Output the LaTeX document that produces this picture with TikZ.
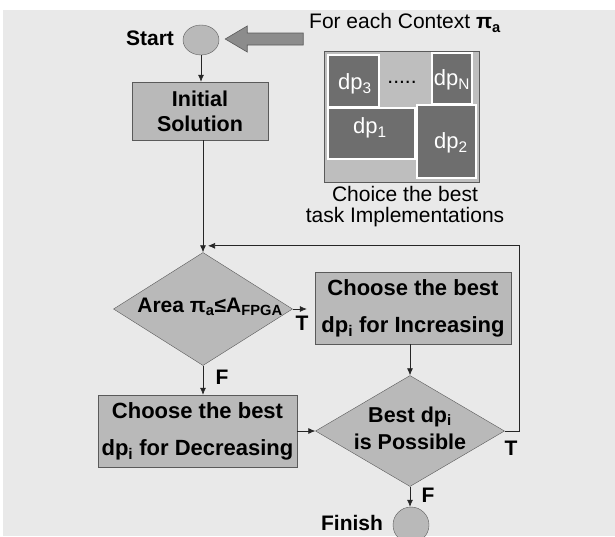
\documentclass[tikz,border=0pt]{standalone}
\usepackage{fontspec}
\setmainfont{Liberation Sans}
\usetikzlibrary{shapes.geometric,arrows.meta,calc}
\definecolor{bg}{HTML}{E9E9E9}
\definecolor{shapefill}{HTML}{B9B9B9}
\definecolor{edge}{HTML}{5A5A5A}
\definecolor{dpfill}{HTML}{6E6E6E}
\definecolor{imgfill}{HTML}{BEBEBE}
\definecolor{arrowfill}{HTML}{8C8C8C}
\begin{document}
\begin{tikzpicture}[x=1pt,y=-1pt,
  every node/.style={font=\fontsize{21}{25}\selectfont},
  proc/.style={draw=edge, fill=shapefill, rectangle, inner sep=0pt, align=center,
    font=\bfseries\fontsize{22}{37}\selectfont},
  dec/.style={draw=edge, fill=shapefill, diamond, inner sep=0pt},
  term/.style={draw=edge, fill=shapefill, ellipse, inner sep=0pt},
  conn/.style={draw=black!85, line width=0.7pt},
  arr/.style={conn, -{Latex[length=7pt,width=6pt]}},
  lbl/.style={font=\bfseries\fontsize{21}{25}\selectfont},
  dpbox/.style={draw=white, line width=1.5pt, fill=dpfill, inner sep=0pt},
  dptext/.style={text=white, font=\fontsize{22}{26}\selectfont},
]
\useasboundingbox (0,0) rectangle (615,536);
\fill[white] (0,0) rectangle (615,536);
\fill[bg] (3,10) rectangle (615,536);

% start / finish
\node[term, minimum width=36pt, minimum height=30pt] (start) at (201,40) {};
\node[lbl] (starttxt) at (150,38) {Start};
\node[term, minimum width=36pt, minimum height=36pt] (fin) at (411,525) {};
\node[lbl] (fintxt) at (352,523) {Finish};

% context arrow and text
\node (ctx) at (405,23) {For each Context \textbf{π\textsubscript{a}}};
\draw[fill=arrowfill, draw=edge, line width=0.6pt]
  ($(start.east)+(6,-1)$) -- ++(22,-13) -- ++(0,7) -- ++(56,0) -- ++(0,12)
  -- ++(-56,0) -- ++(0,7) -- cycle;

% implementations picture
\node[draw=edge, fill=imgfill, line width=0.7pt, inner sep=0pt,
  minimum width=155pt, minimum height=131pt] (img) at (401.5,116.5) {};
\node[dpbox, minimum width=51pt, minimum height=52pt] (dp3) at (353.5,81) {};
\node[dpbox, minimum width=40pt, minimum height=51pt] (dpN) at (452,78.5) {};
\node[dpbox, minimum width=87pt, minimum height=51pt] (dp1) at (371.5,133.5) {};
\node[dpbox, minimum width=59pt, minimum height=73pt] (dp2) at (446.5,141.5) {};
\node[dptext] (dp3t) at (355,84) {dp\textsubscript{3}};
\node[dptext] (dpNt) at (452,80) {dp\textsubscript{N}};
\node[dptext] (dp1t) at (370,128) {dp\textsubscript{1}};
\node[dptext] (dp2t) at (451,143) {dp\textsubscript{2}};
\node[anchor=base] (dots) at (402,83) {.....};
\node[align=center, font=\fontsize{21}{21}\selectfont] (cap) at (405,207)
  {Choice the best\\task Implementations};

% flow shapes
\node[proc, font=\bfseries\fontsize{21.5}{25}\selectfont,
  minimum width=136pt, minimum height=58pt] (init) at (200,111) {Initial\\Solution};
\node[dec, minimum width=179pt, minimum height=113pt] (d1) at (203,309) {};
\node[lbl] (d1t) at (210,307) {Area π\textsubscript{a}≤A\textsubscript{FPGA}};
\node[proc, minimum width=196pt, minimum height=72pt] (inc) at (413,308)
  {Choose the best\\dp\textsubscript{i} for Increasing};
\node[proc, minimum width=199pt, minimum height=72pt] (decr) at (197.5,431)
  {Choose the best\\dp\textsubscript{i} for Decreasing};
\node[dec, minimum width=189pt, minimum height=111pt] (d2) at (410,431) {};
\node[lbl, align=center, font=\bfseries\fontsize{21.5}{27}\selectfont] (d2t) at (410,428)
  {Best dp\textsubscript{i}\\is Possible};

% connectors
\draw[arr] (start.south) -- (start.south |- init.north);
\draw[arr] (init.south -| d1.north) -- (d1.north);
\draw[arr, shorten >=8pt] (d1.east) -- (d1.east -| inc.west);
\draw[arr] (d2.north |- inc.south) -- (d2.north);
\draw[arr] (d1.south) -- (d1.south |- decr.north);
\draw[arr] (decr.east |- d2.west) -- (d2.west);
\draw[arr] (d2.south) -- (d2.south |- fin.north);
\coordinate (mg) at ($(d1.north)+(5,-6.5)$);
\coordinate (lp) at (519,431);
\draw[arr] (d2.east) -- (lp) -- (lp |- mg) -- (mg);

% branch labels
\node[lbl] (t1) at (302,323) {T};
\node[lbl] (f1) at (222,377) {F};
\node[lbl] (t2) at (511,448) {T};
\node[lbl] (f2) at (428,495) {F};
\end{tikzpicture}
\end{document}
